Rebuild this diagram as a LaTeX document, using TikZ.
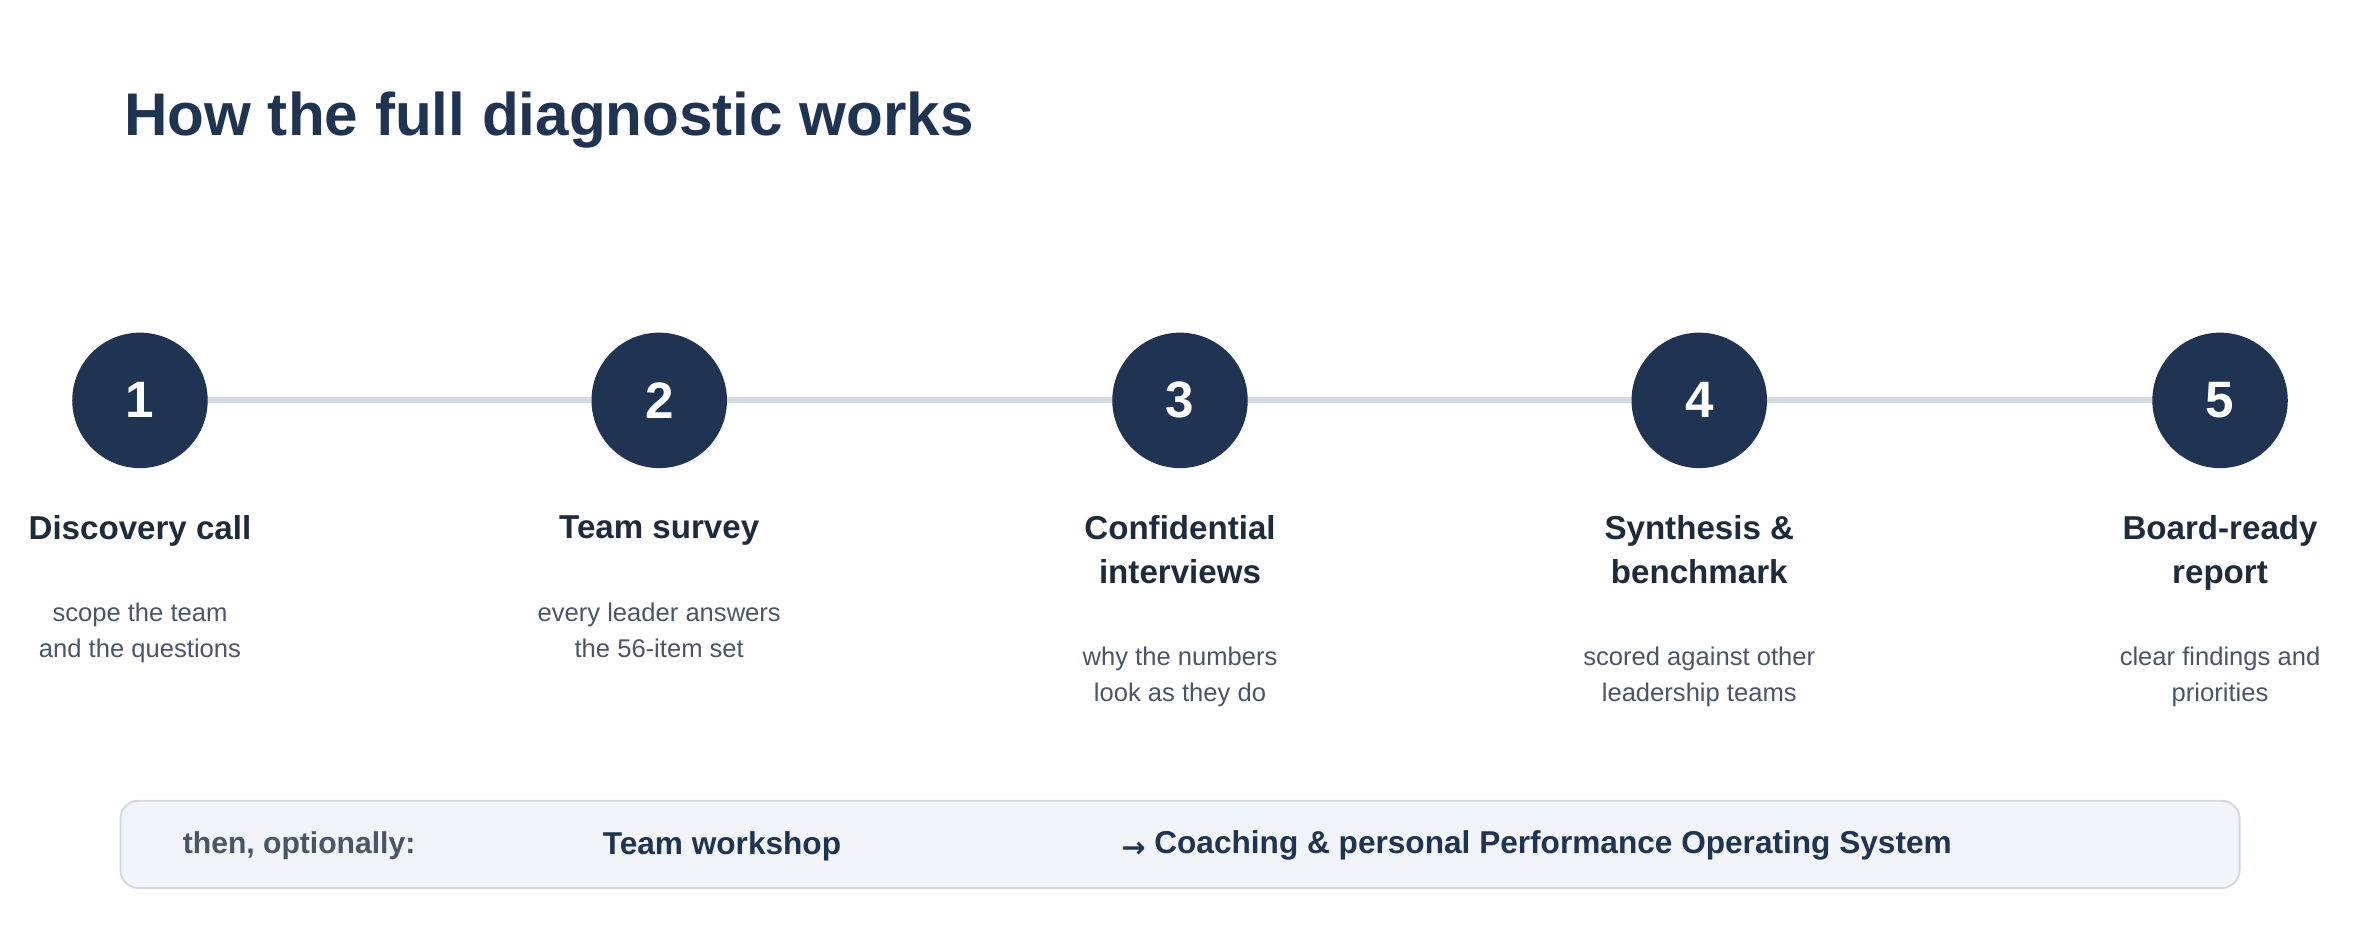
\documentclass[tikz,border=0pt]{standalone}
\usepackage{fontspec}
\setmainfont{Liberation Sans}
\newfontfamily\symf{DejaVu Sans}
\definecolor{navy}{HTML}{1F3352}
\definecolor{ink}{HTML}{1E2B3C}
\definecolor{sub}{HTML}{4A5568}
\definecolor{track}{HTML}{D5DBE5}
\definecolor{boxfill}{HTML}{F1F5FA}
\definecolor{boxline}{HTML}{D0D7E2}
\begin{document}
\begin{tikzpicture}[x=1pt,y=-1pt,
  stepc/.style={circle,fill=navy,minimum size=90pt,inner sep=0pt,text=white,font=\fontsize{34}{34}\selectfont\bfseries},
  ttl/.style={align=center,text=ink,font=\fontsize{22}{29}\selectfont\bfseries,anchor=north},
  desc/.style={align=center,text=sub,font=\fontsize{17}{24}\selectfont,anchor=north},
  conn/.style={draw=track,line width=4pt}]
\useasboundingbox (0,0) rectangle (1568,625);
\node[anchor=west,text=navy,font=\fontsize{40}{40}\selectfont\bfseries] (title) at (79,80) {How the full diagnostic works};
\foreach \i/\x in {1/93,2/438,3/784,4/1129,5/1475}{\coordinate (p\i) at (\x,266);}
\draw[conn] (p1) -- (p5);
\foreach \i in {1,...,5}{\node[stepc] (c\i) at (p\i) {\i};}
\node[ttl] (t1) at (93,339) {Discovery call};
\node[ttl] (t2) at (438,339) {Team survey};
\node[ttl] (t3) at (784,339) {Confidential\\interviews};
\node[ttl] (t4) at (1129,339) {Synthesis \&\\benchmark};
\node[ttl] (t5) at (1475,339) {Board-ready\\report};
\node[desc] (d1) at (93,397) {scope the team\\and the questions};
\node[desc] (d2) at (438,397) {every leader answers\\the 56-item set};
\node[desc] (d3) at (784,426) {why the numbers\\look as they do};
\node[desc] (d4) at (1129,426) {scored against other\\leadership teams};
\node[desc] (d5) at (1475,426) {clear findings and\\priorities};
\draw[draw=boxline,fill=boxfill,line width=1.2pt,rounded corners=12pt] (80,532) rectangle (1488,590);
\node[anchor=west,text=sub,font=\fontsize{20}{20}\selectfont\bfseries] (opt) at (118,562) {then, optionally:};
\node[anchor=west,text=navy,font=\fontsize{21}{21}\selectfont\bfseries] (ws) at (397,562) {Team workshop};
\node[anchor=west,text=navy,font=\fontsize{21}{21}\selectfont\bfseries,inner sep=0pt] (co) at (745,562) {{\symf\fontsize{19}{19}\selectfont\raisebox{-2pt}{→}} Coaching \& personal Performance Operating System};
\end{tikzpicture}
\end{document}
